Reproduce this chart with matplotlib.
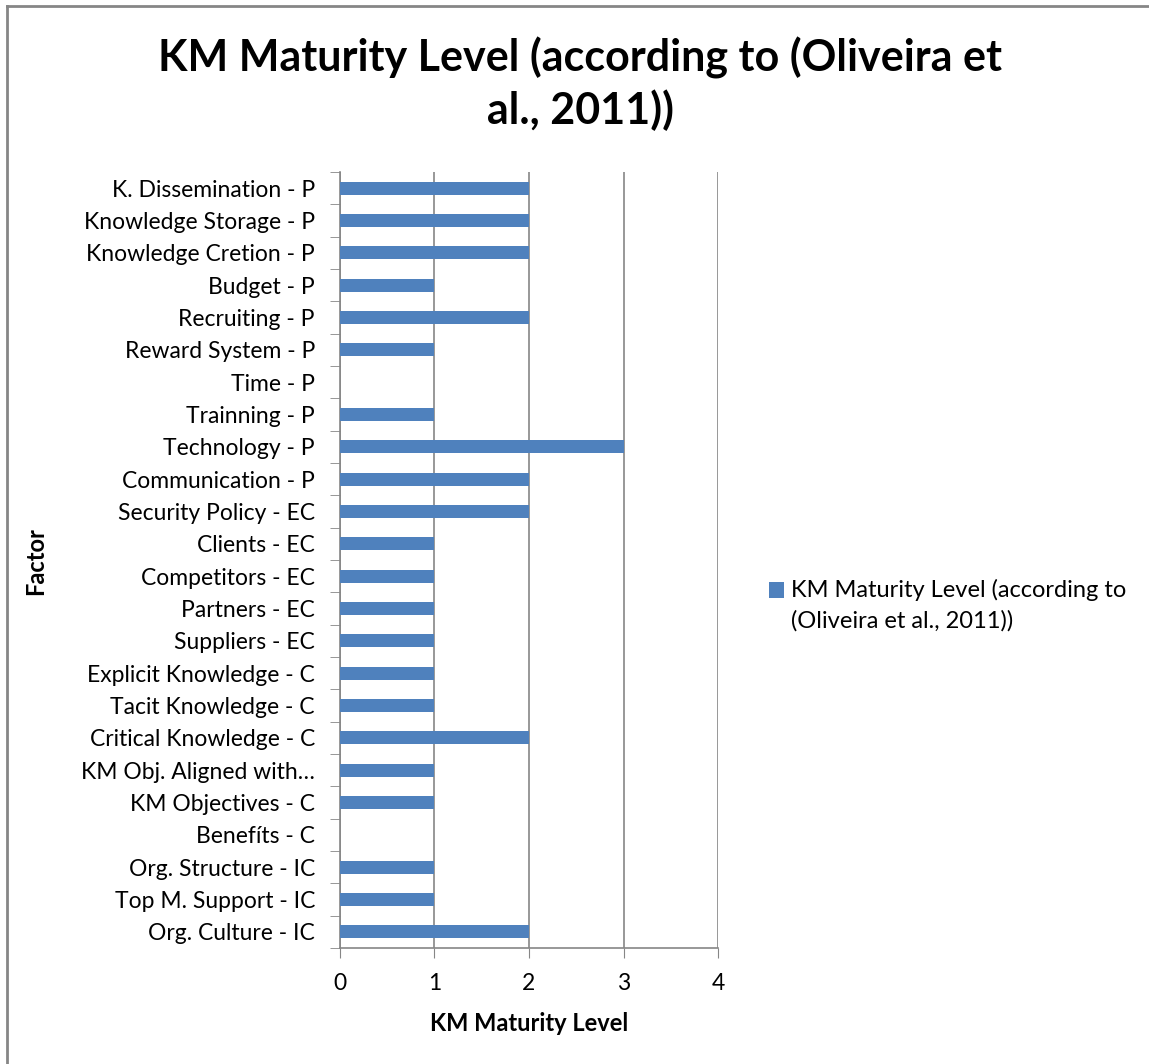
import matplotlib
matplotlib.use("Agg")
from matplotlib import pyplot as plt
from matplotlib.lines import Line2D
from matplotlib.patches import Rectangle
from matplotlib.legend_handler import HandlerPatch

# factors, listed bottom to top as they appear on the y axis
factores = ["Org. Culture - IC", "Top M. Support - IC", "Org. Structure - IC",
            "Benefíts - C", "KM Objectives - C", "KM Obj. Aligned with…",
            "Critical Knowledge - C", "Tacit Knowledge - C", "Explicit Knowledge - C",
            "Suppliers - EC", "Partners - EC", "Competitors - EC", "Clients - EC",
            "Security Policy - EC", "Communication - P", "Technology - P",
            "Trainning - P", "Time - P", "Reward System - P", "Recruiting - P",
            "Budget - P", "Knowledge Cretion - P", "Knowledge Storage - P",
            "K. Dissemination - P"]
nivel = [2, 1, 1, 0, 1, 1, 2, 1, 1, 1, 1, 1, 1, 2, 2, 3, 1, 0, 1, 2, 1, 2, 2, 2]
xticks = [0, 1, 2, 3, 4]

serie = "KM Maturity Level (according to\n(Oliveira et al., 2011))"
azul = "#4F81BD"
gris = "#868686"
fuente = "Lato"

fig = plt.figure(figsize=(11.49, 10.64), dpi=100)
ax = fig.add_axes([0.2959, 0.1090, 0.3290, 0.7293])

pos = list(range(len(factores)))
barras = ax.barh(pos, nivel, height=0.40, color=azul, linewidth=0, label=serie, zorder=3)

ax.set_xlim(0, 4)
ax.set_ylim(-0.5, len(factores) - 0.5)
ax.set_xticks(xticks)
ax.set_xticklabels([str(v) for v in xticks], fontsize=16.5, family=fuente)
ax.tick_params(axis="x", direction="out", length=7, color=gris, pad=11)

# category labels at the centres, tick marks on the boundaries
ax.set_yticks(pos)
ax.set_yticklabels(factores, fontsize=16.5, family=fuente)
ax.tick_params(axis="y", which="major", length=0, pad=18)
ax.set_yticks([p - 0.5 for p in pos] + [len(factores) - 0.5], minor=True)
ax.tick_params(axis="y", which="minor", direction="out", length=7, color=gris)

ax.grid(axis="x", color=gris, linewidth=1.2, zorder=0)
for s in ["top", "right"]:
    ax.spines[s].set_visible(False)
for s in ["left", "bottom"]:
    ax.spines[s].set_color(gris)
    ax.spines[s].set_linewidth(1.2)

ax.set_xlabel("KM Maturity Level", fontsize=17, fontweight="bold", family=fuente,
              labelpad=13)
fig.text(0.031, 0.473, "Factor", rotation=90, fontsize=17, fontweight="bold",
         family=fuente, ha="center", va="center")

fig.text(0.505, 0.921, "KM Maturity Level (according to (Oliveira et\nal., 2011))",
         fontsize=31, fontweight="bold", family=fuente, ha="center", va="center",
         linespacing=1.3)


# legend square sits next to the first line of the label
def cuadro(legend, orig_handle, xdescent, ydescent, width, height, fontsize):
    return Rectangle((-xdescent, -ydescent + 11.2), width, height)


def copia_estilo(handle, orig):
    handle.update_from(orig.patches[0])


leg = fig.legend(loc="center left", bbox_to_anchor=(0.661, 0.431), frameon=False,
                 prop={"family": fuente, "size": 17}, handlelength=0.62,
                 handleheight=0.62, handletextpad=0.3, borderaxespad=0,
                 handler_map={barras: HandlerPatch(patch_func=cuadro,
                                                   update_func=copia_estilo)})
for t in leg.get_texts():
    t.set_linespacing(1.5)

# outer chart border (top and left edges are inside the image)
fig.add_artist(Line2D([0.0058, 1.0], [0.9945, 0.9945], transform=fig.transFigure,
                      color=gris, linewidth=2))
fig.add_artist(Line2D([0.0058, 0.0058], [0.0, 0.9945], transform=fig.transFigure,
                      color=gris, linewidth=2))

fig.savefig("out.png", dpi=100)
